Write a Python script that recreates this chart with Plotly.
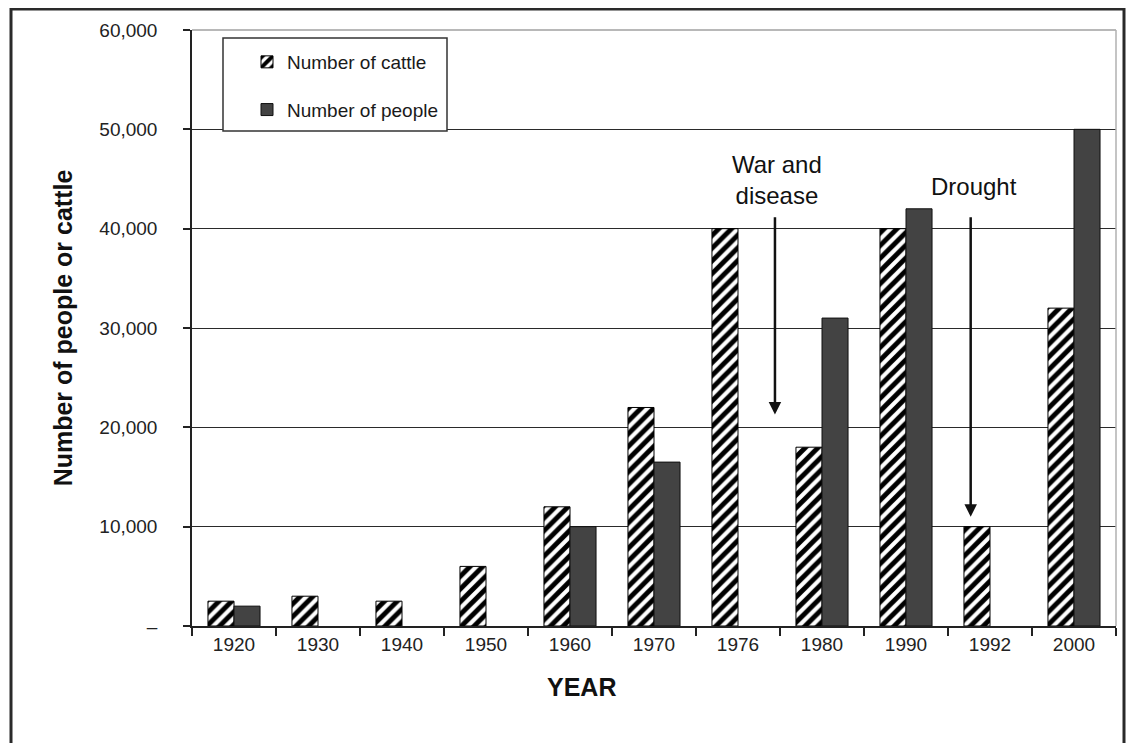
import plotly.graph_objects as go

years = ["1920", "1930", "1940", "1950", "1960", "1970", "1976", "1980", "1990", "1992", "2000"]
cattle = [2500, 3000, 2500, 6000, 12000, 22000, 40000, 18000, 40000, 10000, 32000]
people = [2000, None, None, None, 10000, 16500, None, 31000, 42000, None, 50000]
ytick_vals = [0, 10000, 20000, 30000, 40000, 50000, 60000]
ytick_text = ["–", "10,000", "20,000", "30,000", "40,000", "50,000", "60,000"]

FONT = "Liberation Sans, Arial, sans-serif"

OFF = 8  # page body margin
W, H = 1118, 735
L, R, T, B = 184, 10, 22, 117
pw, ph = W - L - R, H - T - B


def px_x(x):  # page pixel -> paper
    return (x - OFF - L) / pw


def px_y(y):
    return (H - B - (y - OFF)) / ph


fig = go.Figure()
fig.add_trace(go.Bar(
    x=years, y=cattle, name="Number of cattle", legendgroup="a",
    marker=dict(color="black", line=dict(color="black", width=1),
                pattern=dict(shape="/", fgcolor="black", fgopacity=1, bgcolor="white",
                             size=9, solidity=0.55, fillmode="replace")),
))
fig.add_trace(go.Bar(
    x=years, y=people, name="Number of people", legendgroup="b",
    marker=dict(color="#434343", line=dict(color="#111", width=1)),
))

fig.update_layout(
    width=W, height=H, autosize=False,
    margin=dict(l=L, r=R, t=T, b=B),
    paper_bgcolor="white", plot_bgcolor="white",
    barmode="group", bargap=0.38, bargroupgap=0,
    font=dict(family=FONT, color="#1a1a1a", size=19),
    showlegend=True,
    legend=dict(x=px_x(247), y=px_y(43), xanchor="left", yanchor="top",
                bgcolor="rgba(0,0,0,0)", borderwidth=0,
                font=dict(family=FONT, size=19, color="#1a1a1a"),
                traceorder="grouped", tracegroupgap=20),
)

fig.update_xaxes(
    type="category", range=[-0.5, 10.5],
    showline=True, linecolor="#222", linewidth=1.5,
    ticks="outside", tickson="boundaries", ticklen=8, tickcolor="#222", tickwidth=1.5,
    tickfont=dict(family=FONT, size=19, color="#222"),
    showgrid=False,
)
fig.update_yaxes(
    range=[0, 60000], tickvals=ytick_vals, ticktext=ytick_text,
    showline=True, linecolor="#222", linewidth=1.5,
    ticks="outside", ticklen=7, tickcolor="#222", tickwidth=1.5,
    ticklabelstandoff=22,
    tickfont=dict(family=FONT, size=19, color="#222"),
    showgrid=True, gridcolor="#2a2a2a", gridwidth=1.2, zeroline=False,
    title=dict(text="<b>Number of people or cattle</b>", font=dict(family=FONT, size=25, color="#111"), standoff=20),
)

shapes = [
    dict(type="line", xref="paper", yref="paper", x0=0, x1=1, y0=1, y1=1, line=dict(color="#a0a0a0", width=1.5), layer="above"),
    dict(type="line", xref="paper", yref="paper", x0=1, x1=1, y0=0, y1=1, line=dict(color="#b0b0b0", width=1.5), layer="above"),
    dict(type="rect", xref="paper", yref="paper", x0=px_x(223), x1=px_x(447), y0=px_y(131), y1=px_y(38),
         fillcolor="white", line=dict(color="#333", width=1.5), layer="above"),
    dict(type="rect", xref="paper", yref="paper", x0=px_x(11), x1=px_x(1124), y0=px_y(770), y1=px_y(9),
         fillcolor="rgba(0,0,0,0)", line=dict(color="#2a2a2a", width=3), layer="above"),
]
fig.update_layout(shapes=shapes)

annotations = [
    dict(x=px_x(581), y=px_y(703), xref="paper", yref="paper", text="<b>YEAR</b>", showarrow=False,
         font=dict(family=FONT, size=25, color="#111")),
    dict(x=6.46, y=44900, xref="x", yref="y", text="War and<br>disease", showarrow=False,
         font=dict(family=FONT, size=24, color="#111")),
    dict(x=6.44, y=21300, xref="x", yref="y", ax=6.44, ay=41300, axref="x", ayref="y",
         text="", showarrow=True, arrowhead=2, arrowsize=1, arrowwidth=2.5, arrowcolor="#111"),
    dict(x=8.81, y=44200, xref="x", yref="y", text="Drought", showarrow=False,
         font=dict(family=FONT, size=24, color="#111")),
    dict(x=8.77, y=11000, xref="x", yref="y", ax=8.77, ay=41300, axref="x", ayref="y",
         text="", showarrow=True, arrowhead=2, arrowsize=1, arrowwidth=2.5, arrowcolor="#111"),
]
fig.update_layout(annotations=annotations)

fig.write_html("out.html")
